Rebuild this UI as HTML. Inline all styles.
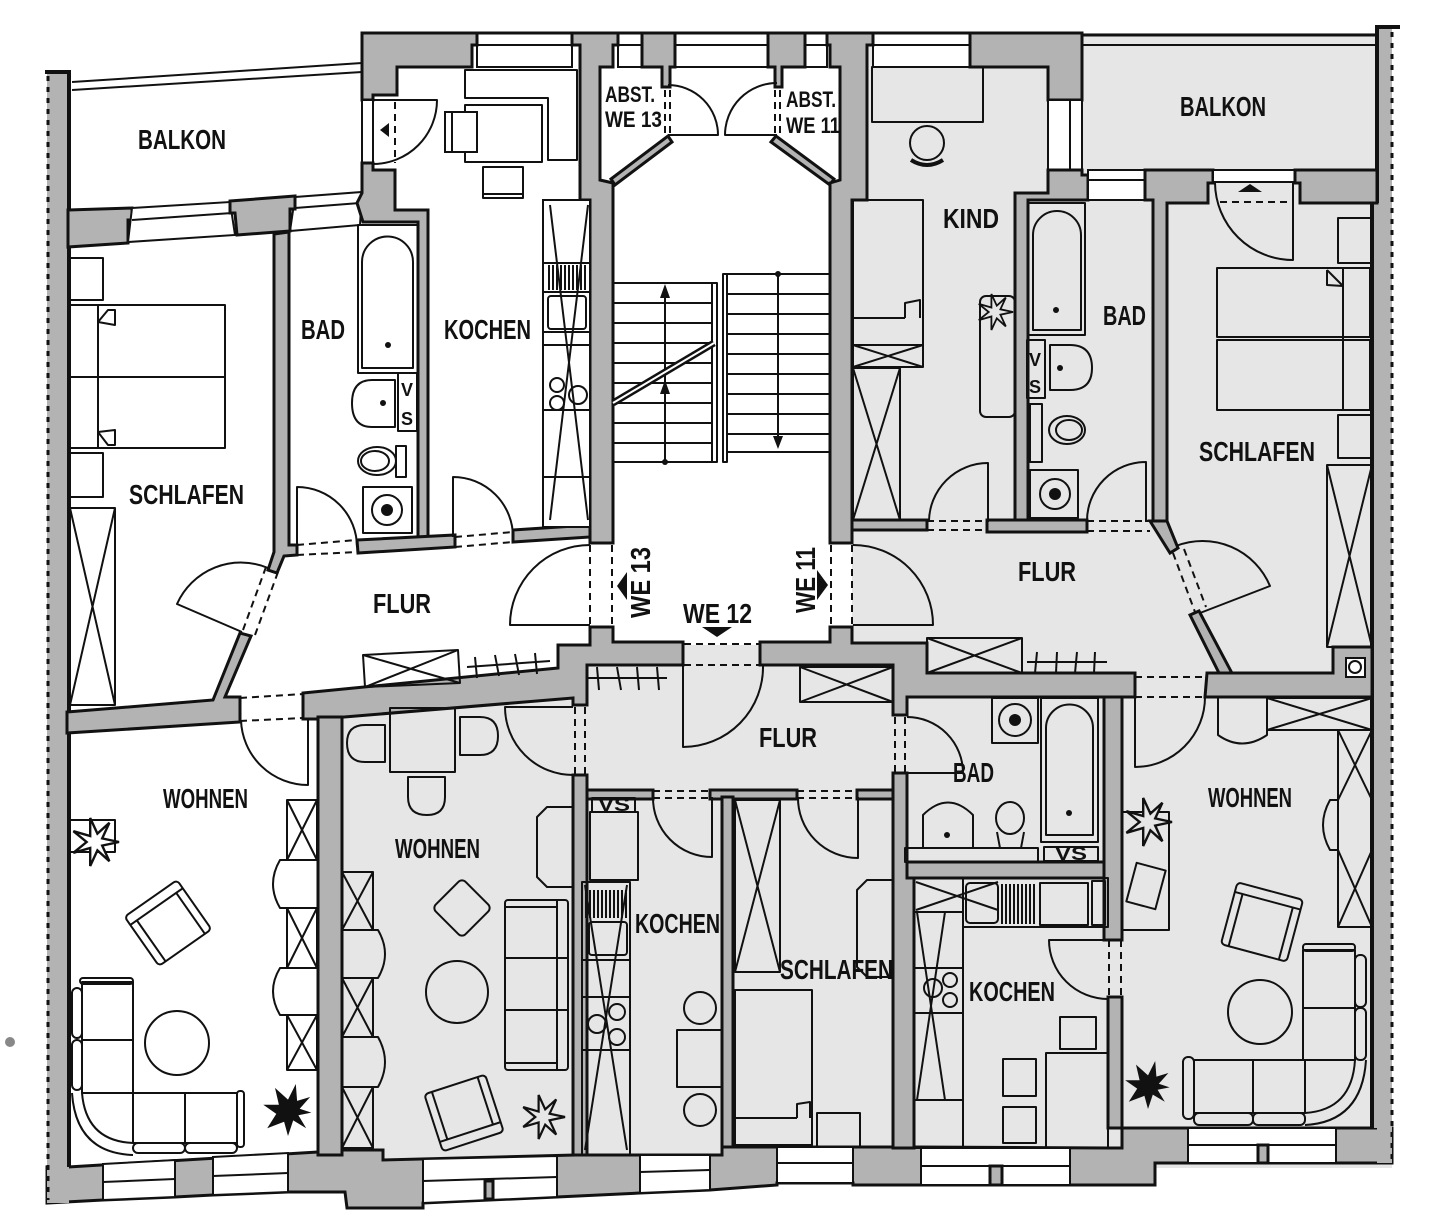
<!DOCTYPE html>
<html><head><meta charset="utf-8"><title>Grundriss</title>
<style>
html,body{margin:0;padding:0;background:#fff}
svg{display:block}
.w{fill:#b3b3b3;stroke:#111;stroke-width:3}
.g{fill:#b3b3b3}
.f{fill:none;stroke:#111;stroke-width:2;stroke-linejoin:round}
.fw{fill:#fff;stroke:#111;stroke-width:2}
.d{fill:none;stroke:#111;stroke-width:2;stroke-dasharray:7 5}
.t{font-family:"Liberation Sans",sans-serif;font-weight:bold;font-size:28px;fill:#111}
.s{font-family:"Liberation Sans",sans-serif;font-weight:bold;font-size:22px;fill:#111}
.v{font-family:"Liberation Sans",sans-serif;font-weight:bold;font-size:18px;fill:#111}
</style></head><body>
<svg width="1445" height="1230" viewBox="0 0 1445 1230" xmlns="http://www.w3.org/2000/svg">
<defs>
<path id="pl" d="M20,0 L6,3 L12,16 L2,7 L-4,20 L-4,5 L-18,9 L-7,0 L-18,-9 L-4,-5 L-4,-20 L2,-7 L12,-16 L6,-3 Z"/>
<path id="pb" d="M18,2 L8,4 L14,14 L4,8 L0,20 L-3,9 L-16,14 L-9,3 L-19,-4 L-7,-4 L-10,-17 L0,-8 L6,-20 L7,-7 L17,-10 L9,-1 Z"/>
</defs>
<rect width="1445" height="1230" fill="#fff"/>
<!-- stipple areas -->
<rect x="580" y="33" width="812" height="1135" fill="#e6e6e6"/>
<rect x="342" y="700" width="240" height="460" fill="#e6e6e6"/>
<rect x="575" y="33" width="277" height="612" fill="#fff"/>

<!-- bottom facade band -->
<polygon class="w" points="47,1167 68,1167 318,1152 342,1150 383,1150 383,1160 575,1155 722,1155 722,1147 914,1147 1108,1148 1122,1148 1122,1128 1392,1128 1392,1163 1155,1163 1155,1185 928,1185 853,1185 853,1183 777,1183 777,1185 710,1190 640,1193 557,1197 423,1203 423,1208 347,1208 345,1192 288,1192 213,1195 175,1197 103,1200 47,1203"/>
<!-- bottom windows -->
<polygon class="fw" points="103,1164 175,1160 175,1197 103,1200"/><line class="f" x1="103" y1="1182" x2="175" y2="1179"/>
<polygon class="fw" points="213,1157 288,1153 288,1192 213,1195"/><line class="f" x1="213" y1="1176" x2="288" y2="1173"/>
<polygon class="fw" points="423,1159 557,1156 557,1197 423,1203"/><line class="f" x1="423" y1="1181" x2="557" y2="1177"/><rect class="w" x="485" y="1181" width="8" height="18" stroke-width="2"/>
<polygon class="fw" points="640,1155 710,1155 710,1190 640,1193"/><line class="f" x1="640" y1="1172" x2="710" y2="1170"/>
<polygon class="fw" points="777,1147 853,1147 853,1183 777,1183"/><line class="f" x1="777" y1="1163" x2="853" y2="1163"/>
<polygon class="fw" points="921,1148 1070,1148 1070,1185 921,1185"/><line class="f" x1="921" y1="1166" x2="1070" y2="1166"/><rect class="w" x="990" y="1166" width="12" height="19" stroke-width="2"/>
<polygon class="fw" points="1188,1128 1336,1128 1336,1163 1188,1163"/><line class="f" x1="1188" y1="1145" x2="1336" y2="1145"/><rect class="w" x="1258" y="1145" width="10" height="18" stroke-width="2"/>

<!-- exterior left -->
<rect class="g" x="47" y="72" width="22" height="1131"/>
<line x1="45" y1="72" x2="71" y2="72" stroke="#111" stroke-width="4"/>
<line x1="69" y1="72" x2="69" y2="1167" stroke="#111" stroke-width="4"/>
<line x1="48" y1="76" x2="48" y2="1200" stroke="#111" stroke-width="3" stroke-dasharray="5 6"/>
<!-- exterior right -->
<rect class="g" x="1377" y="27" width="15" height="1136"/>
<rect class="g" x="1372" y="203" width="6" height="925"/>
<line x1="1377" y1="27" x2="1377" y2="203" stroke="#111" stroke-width="4"/>
<line x1="1372" y1="203" x2="1372" y2="1128" stroke="#111" stroke-width="4"/>
<line x1="1375" y1="27" x2="1400" y2="27" stroke="#111" stroke-width="4"/>
<line x1="1392" y1="32" x2="1392" y2="1160" stroke="#111" stroke-width="3" stroke-dasharray="5 6"/>

<!-- balconies -->
<line class="f" x1="72" y1="82" x2="362" y2="63"/>
<line class="f" x1="72" y1="90" x2="362" y2="72"/>
<line x1="1082" y1="35" x2="1377" y2="35" stroke="#111" stroke-width="3"/>
<line class="f" x1="1082" y1="45" x2="1377" y2="45"/>

<!-- top windows -->
<rect class="fw" x="477" y="33" width="95" height="34"/><line class="f" x1="477" y1="45" x2="572" y2="45"/>
<rect class="fw" x="618" y="33" width="24" height="34"/><line class="f" x1="618" y1="45" x2="642" y2="45"/>
<rect class="fw" x="675" y="33" width="93" height="34"/><line class="f" x1="675" y1="45" x2="768" y2="45"/>
<rect class="fw" x="805" y="33" width="22" height="34"/><line class="f" x1="805" y1="45" x2="827" y2="45"/>
<rect class="fw" x="873" y="33" width="97" height="34"/><line class="f" x1="873" y1="45" x2="970" y2="45"/>
<line x1="362" y1="33" x2="1082" y2="33" stroke="#111" stroke-width="3"/>

<!-- left apartment top walls -->
<polygon class="w" points="68,210 132,208 132,220 128,220 128,243 68,247"/>
<polygon class="fw" points="132,208 230,202 235,235 128,242"/>
<line class="f" x1="132" y1="220" x2="232" y2="213"/>
<polygon class="fw" points="295,197 362,192 360,225 290,231"/>
<line class="f" x1="295" y1="208" x2="360" y2="203"/>
<polygon class="w" points="230,201 295,196 295,209 290,209 290,231 237,235 235,213 230,213"/>
<polygon class="w" points="362,33 477,33 477,45 472,45 472,67 397,67 397,95 373,95 373,100 362,100"/>
<rect class="fw" x="362" y="100" width="11" height="63"/>
<polygon class="w" points="362,163 373,163 373,170 395,170 395,210 428,210 428,540 418,540 418,222 363,222 357,203 362,193"/>
<polygon class="w" points="274,234 289,232 289,545 297,545 297,555 284,556 277,573 268,570 274,552"/>
<polygon class="w" points="357,540 455,535 455,547 358,553"/>
<polygon class="w" points="513,530 590,525 590,537 513,542"/>
<!-- stair walls -->
<polygon class="w" points="572,33 618,33 618,45 613,45 613,67 600,67 600,180 613,183 613,543 590,543 590,200 580,200 580,45 572,45"/>
<polygon class="w" points="611,179 668,136 672,142 615,185"/>
<polygon class="w" points="642,33 675,33 675,67 670,67 670,87 662,87 662,67 642,67"/>
<polygon class="w" points="768,33 805,33 805,67 782,67 782,87 775,87 775,67 768,67"/>
<polygon class="w" points="771,142 776,136 834,179 830,185"/>
<polygon class="w" points="827,33 873,33 873,45 867,45 867,200 852,200 852,543 830,543 830,183 840,180 840,67 830,67 830,45 827,45"/>
<!-- right apartment top walls -->
<polygon class="w" points="970,33 1082,33 1082,100 1048,100 1048,67 970,67"/>
<rect class="fw" x="1048" y="100" width="34" height="70"/><line class="f" x1="1070" y1="100" x2="1070" y2="170"/>
<polygon class="w" points="1048,170 1082,170 1082,175 1088,175 1088,200 1028,200 1028,522 1015,522 1015,193 1048,193"/>
<rect class="fw" x="1088" y="170" width="57" height="30"/><line class="f" x1="1088" y1="180" x2="1145" y2="180"/>
<polygon class="w" points="1145,170 1213,170 1213,183 1208,183 1208,203 1167,203 1167,522 1153,522 1153,200 1145,200"/>
<rect class="fw" x="1213" y="170" width="82" height="12"/>
<polygon class="w" points="1295,170 1377,170 1377,203 1300,203 1300,183 1295,183"/>
<rect class="w" x="987" y="520" width="100" height="12"/>
<rect class="w" x="852" y="520" width="75" height="10"/>
<polygon class="w" points="1150,521 1167,521 1178,548 1170,553"/>
<polygon class="w" points="1190,615 1199,611 1233,675 1222,679"/>
<polygon class="w" points="1207,673 1333,673 1333,647 1372,647 1372,697 1205,697"/>
<rect class="fw" x="1346" y="658" width="19" height="19"/><circle cx="1355" cy="667" r="6" fill="#fff" stroke="#111" stroke-width="2"/>
<!-- middle walls -->
<polygon class="w" points="760,642 830,642 830,627 852,627 852,643 927,643 927,673 1135,673 1135,697 907,697 907,715 893,715 893,665 760,665"/>
<rect class="w" x="1104" y="697" width="18" height="243"/>
<rect class="w" x="1108" y="997" width="14" height="131"/>
<polygon class="w" points="303,693 558,668 558,645 590,645 590,627 613,627 613,642 683,642 683,665 587,665 587,705 573,705 573,698 320,719 303,719"/>
<rect class="w" x="318" y="717" width="24" height="438"/>
<polygon class="w" points="67,712 213,700 240,633 251,636 225,697 240,697 240,722 67,733"/>
<polygon class="w" points="893,773 907,773 907,862 914,862 914,1148 893,1148"/>
<rect class="w" x="907" y="862" width="197" height="16"/>
<rect class="w" x="573" y="790" width="80" height="9"/>
<rect class="w" x="710" y="790" width="87" height="9"/>
<rect class="w" x="857" y="790" width="36" height="9"/>
<rect class="w" x="573" y="775" width="14" height="380"/>
<rect class="w" x="722" y="797" width="11" height="350"/>

<!-- doors -->
<path class="f" d="M373,100 L437,100 A64,64 0 0 1 373,164"/>
<line class="d" x1="395" y1="102" x2="395" y2="163"/>
<polygon points="380,130 389,123 389,137" fill="#111"/>
<path class="f" d="M297,547 L297,487 A60,60 0 0 1 357,547"/>
<line class="d" x1="297" y1="545" x2="357" y2="540"/><line class="d" x1="297" y1="555" x2="357" y2="552"/>
<path class="f" d="M453,537 L453,477 A60,60 0 0 1 513,537"/>
<line class="d" x1="455" y1="537" x2="513" y2="532"/><line class="d" x1="455" y1="547" x2="513" y2="542"/>
<path class="f" d="M242,632 L177,604 A70,70 0 0 1 268,568"/>
<line class="d" x1="243" y1="630" x2="266" y2="567"/><line class="d" x1="255" y1="635" x2="278" y2="572"/>
<path class="f" d="M308,720 L308,785 A67,67 0 0 1 241,720"/>
<line class="d" x1="240" y1="698" x2="303" y2="694"/><line class="d" x1="240" y1="721" x2="303" y2="718"/>
<path class="f" d="M590,625 L510,625 A80,80 0 0 1 590,545"/>
<line class="d" x1="590" y1="545" x2="590" y2="625"/><line class="d" x1="612" y1="545" x2="612" y2="625"/>
<path class="f" d="M853,625 L933,625 A80,80 0 0 0 853,545"/>
<line class="d" x1="831" y1="545" x2="831" y2="625"/><line class="d" x1="852" y1="545" x2="852" y2="625"/>
<path class="f" d="M683,665 L683,747 A80,80 0 0 0 763,665"/>
<line class="d" x1="684" y1="644" x2="760" y2="644"/><line class="d" x1="684" y1="665" x2="760" y2="665"/>
<path class="f" d="M573,707 L505,707 A68,68 0 0 0 573,775"/>
<line class="d" x1="575" y1="707" x2="575" y2="775"/><line class="d" x1="585" y1="707" x2="585" y2="775"/>
<path class="f" d="M907,717 A56,56 0 0 1 963,773 L907,773"/>
<line class="d" x1="895" y1="717" x2="895" y2="773"/><line class="d" x1="905" y1="717" x2="905" y2="773"/>
<path class="f" d="M712,797 L712,857 A59,59 0 0 1 653,797"/>
<line class="d" x1="653" y1="791" x2="710" y2="791"/><line class="d" x1="653" y1="798" x2="710" y2="798"/>
<path class="f" d="M858,797 L858,858 A60,60 0 0 1 798,797"/>
<line class="d" x1="797" y1="791" x2="857" y2="791"/><line class="d" x1="797" y1="798" x2="857" y2="798"/>
<path class="f" d="M988,522 L988,463 A59,59 0 0 0 929,522"/>
<line class="d" x1="927" y1="521" x2="987" y2="521"/><line class="d" x1="927" y1="530" x2="987" y2="530"/>
<path class="f" d="M1146,522 L1146,462 A59,59 0 0 0 1087,522"/>
<line class="d" x1="1087" y1="521" x2="1150" y2="521"/><line class="d" x1="1087" y1="531" x2="1150" y2="531"/>
<path class="f" d="M1200,613 L1270,586 A73,73 0 0 0 1176,546"/>
<line class="d" x1="1173" y1="553" x2="1195" y2="612"/><line class="d" x1="1184" y1="549" x2="1206" y2="607"/>
<path class="f" d="M1135,697 L1135,767 A70,70 0 0 0 1205,697"/>
<line class="d" x1="1135" y1="677" x2="1207" y2="677"/><line class="d" x1="1135" y1="697" x2="1207" y2="697"/>
<path class="f" d="M1108,940 L1049,940 A59,59 0 0 0 1108,999"/>
<line class="d" x1="1109" y1="940" x2="1109" y2="997"/><line class="d" x1="1121" y1="940" x2="1121" y2="997"/>
<path class="f" d="M1293,183 L1293,260 A78,78 0 0 1 1215,183"/>
<line class="d" x1="1220" y1="202" x2="1293" y2="202"/>
<polygon points="1238,192 1262,192 1250,184" fill="#111"/>
<path class="f" d="M668,135 L718,135 A50,50 0 0 0 668,85"/>
<line class="d" x1="665" y1="90" x2="665" y2="135"/><line class="d" x1="670" y1="90" x2="670" y2="135"/>
<path class="f" d="M777,135 L725,135 A52,52 0 0 1 777,83"/>
<line class="d" x1="775" y1="90" x2="775" y2="135"/><line class="d" x1="780" y1="90" x2="780" y2="135"/>

<!-- stairs -->
<g stroke="#111" stroke-width="2">
<line x1="613" y1="283" x2="712" y2="283"/><line x1="613" y1="303" x2="712" y2="303"/><line x1="613" y1="323" x2="712" y2="323"/><line x1="613" y1="343" x2="712" y2="343"/><line x1="613" y1="363" x2="712" y2="363"/><line x1="613" y1="383" x2="712" y2="383"/><line x1="613" y1="403" x2="712" y2="403"/><line x1="613" y1="423" x2="712" y2="423"/><line x1="613" y1="443" x2="712" y2="443"/><line x1="613" y1="462" x2="712" y2="462"/>
<line x1="727" y1="274" x2="830" y2="274"/><line x1="727" y1="294" x2="830" y2="294"/><line x1="727" y1="314" x2="830" y2="314"/><line x1="727" y1="334" x2="830" y2="334"/><line x1="727" y1="354" x2="830" y2="354"/><line x1="727" y1="374" x2="830" y2="374"/><line x1="727" y1="394" x2="830" y2="394"/><line x1="727" y1="414" x2="830" y2="414"/><line x1="727" y1="434" x2="830" y2="434"/><line x1="727" y1="452" x2="830" y2="452"/>
<line x1="665" y1="290" x2="665" y2="462"/><line x1="778" y1="274" x2="778" y2="445"/>
</g>
<rect class="f" x="712" y="283" width="5" height="179"/>
<rect class="f" x="723" y="274" width="4" height="188"/>
<polygon points="665,284 660,298 670,298" fill="#111"/>
<polygon points="665,380 660,394 670,394" fill="#111"/>
<polygon points="778,449 773,436 783,436" fill="#111"/>
<circle cx="665" cy="462" r="3" fill="#111"/><circle cx="778" cy="274" r="3" fill="#111"/>
<line x1="613" y1="403" x2="714" y2="343" stroke="#111" stroke-width="7"/>
<line x1="613" y1="403" x2="714" y2="343" stroke="#fff" stroke-width="2"/>

<!-- WE13 SCHLAFEN furniture -->
<rect class="f" x="70" y="258" width="33" height="42"/>
<rect class="f" x="70" y="305" width="155" height="72"/>
<rect class="f" x="70" y="377" width="155" height="71"/>
<line class="f" x1="98" y1="305" x2="98" y2="448"/>
<path class="f" d="M98,322 L108,310 L115,310 L115,325 Z"/>
<path class="f" d="M98,432 L108,445 L115,445 L115,430 Z"/>
<rect class="f" x="70" y="453" width="33" height="44"/>
<rect class="f" x="70" y="508" width="45" height="197"/>
<path class="f" d="M70,508 L115,705 M115,508 L70,705"/>
<!-- WE13 BAD -->
<rect class="f" x="358" y="225" width="60" height="148"/>
<path class="f" d="M362,368 L362,262 A25,25 0 0 1 413,262 L413,368 Z"/>
<circle cx="388" cy="345" r="3" fill="#111"/>
<rect class="f" x="398" y="373" width="19" height="58" stroke-width="3"/>
<text class="v" x="401" y="396">V</text><text class="v" x="401" y="425">S</text>
<path class="f" d="M395,380 L372,380 Q352,380 352,403 Q352,427 372,427 L395,427 Z"/>
<circle cx="383" cy="403" r="3" fill="#111"/>
<ellipse class="f" cx="377" cy="461" rx="19" ry="14"/><ellipse class="f" cx="375" cy="461" rx="14" ry="10"/>
<rect class="f" x="396" y="446" width="10" height="31"/>
<rect class="f" x="363" y="487" width="49" height="46"/>
<circle class="f" cx="387" cy="510" r="15"/><circle cx="387" cy="510" r="6" fill="#111"/>
<!-- WE13 KOCHEN -->
<polygon class="f" points="465,70 577,70 577,160 548,160 548,98 465,98"/>
<rect class="f" x="465" y="105" width="77" height="57"/>
<rect class="fw" x="445" y="112" width="32" height="40"/><line class="f" x1="452" y1="112" x2="452" y2="152"/>
<rect class="f" x="483" y="167" width="40" height="31"/><line class="f" x1="483" y1="194" x2="523" y2="194"/>
<rect class="fw" x="543" y="200" width="47" height="327"/>
<path class="f" d="M550,205 L588,520 M588,205 L550,520"/>
<g stroke="#111" stroke-width="2"><line x1="543" y1="263" x2="590" y2="263"/><line x1="543" y1="292" x2="590" y2="292"/><line x1="543" y1="332" x2="590" y2="332"/><line x1="543" y1="345" x2="590" y2="345"/><line x1="543" y1="410" x2="590" y2="410"/><line x1="543" y1="477" x2="590" y2="477"/>
<line x1="549" y1="265" x2="549" y2="290"/><line x1="553" y1="265" x2="553" y2="290"/><line x1="557" y1="265" x2="557" y2="290"/><line x1="561" y1="265" x2="561" y2="290"/><line x1="565" y1="265" x2="565" y2="290"/><line x1="569" y1="265" x2="569" y2="290"/><line x1="573" y1="265" x2="573" y2="290"/><line x1="577" y1="265" x2="577" y2="290"/><line x1="581" y1="265" x2="581" y2="290"/><line x1="585" y1="265" x2="585" y2="290"/></g>
<rect class="f" x="548" y="296" width="38" height="33" rx="3"/>
<circle class="f" cx="557" cy="385" r="7"/><circle class="f" cx="557" cy="403" r="7"/><circle class="f" cx="578" cy="395" r="9"/>
<!-- FLUR left -->
<polygon class="f" points="363,655 458,650 460,683 365,687"/>
<path class="f" d="M363,655 L460,683 M458,650 L365,687"/>
<path class="f" d="M467,667 L550,661 M475,657 L477,678 M495,655 L499,676 M515,654 L519,675 M535,653 L537,674"/>

<!-- KIND -->
<rect class="f" x="872" y="67" width="111" height="55"/>
<circle class="f" cx="927" cy="143" r="17"/>
<path d="M911,160 Q927,170 943,160" fill="none" stroke="#111" stroke-width="4"/>
<rect class="f" x="853" y="200" width="70" height="145"/>
<line class="f" x1="853" y1="318" x2="905" y2="318"/>
<path class="f" d="M905,318 L905,303 L920,300 L920,318"/>
<rect class="f" x="853" y="345" width="70" height="22"/>
<path class="f" d="M853,345 L923,367 M923,345 L853,367"/>
<rect class="f" x="853" y="368" width="47" height="152"/>
<path class="f" d="M853,368 L900,520 M900,368 L853,520"/>
<rect class="f" x="980" y="296" width="35" height="121" rx="6"/>
<use href="#pl" transform="translate(995,312) scale(0.9)" fill="none" stroke="#111" stroke-width="2"/>
<!-- upper right BAD -->
<rect class="f" x="1028" y="203" width="57" height="132"/>
<path class="f" d="M1033,330 L1033,235 A24,24 0 0 1 1081,235 L1081,330 Z"/>
<circle cx="1056" cy="310" r="3" fill="#111"/>
<rect class="f" x="1027" y="340" width="18" height="58" stroke-width="3"/>
<text class="v" x="1029" y="366">V</text><text class="v" x="1029" y="393">S</text>
<path class="f" d="M1050,345 L1070,345 Q1092,345 1092,368 Q1092,390 1070,390 L1050,390 Z"/>
<circle cx="1060" cy="368" r="3" fill="#111"/>
<rect class="f" x="1030" y="404" width="12" height="58"/>
<ellipse class="f" cx="1067" cy="430" rx="18" ry="14"/><ellipse class="f" cx="1069" cy="430" rx="13" ry="10"/>
<rect class="f" x="1030" y="470" width="48" height="48"/>
<circle class="f" cx="1055" cy="494" r="15"/><circle cx="1055" cy="494" r="6" fill="#111"/>
<!-- right SCHLAFEN -->
<rect class="f" x="1338" y="218" width="34" height="45"/>
<rect class="f" x="1217" y="268" width="153" height="69"/>
<rect class="f" x="1217" y="340" width="153" height="70"/>
<line class="f" x1="1343" y1="268" x2="1343" y2="410"/>
<path class="f" d="M1327,270 L1343,286 M1327,270 L1327,285 L1343,286"/>
<rect class="f" x="1338" y="415" width="34" height="43"/>
<rect class="f" x="1327" y="465" width="45" height="182"/>
<path class="f" d="M1327,465 L1372,647 M1372,465 L1327,647"/>
<!-- right FLUR -->
<rect class="f" x="927" y="638" width="95" height="35"/>
<path class="f" d="M927,638 L1022,673 M1022,638 L927,673"/>
<path class="f" d="M1027,662 L1107,662 M1037,652 L1035,673 M1057,652 L1056,673 M1077,652 L1075,673 M1095,652 L1094,673"/>
<!-- lower FLUR -->
<path class="f" d="M587,678 L667,678 M597,667 L599,690 M617,667 L621,690 M637,667 L639,690 M657,667 L659,690"/>
<rect class="f" x="800" y="667" width="93" height="35"/>
<path class="f" d="M800,667 L893,702 M893,667 L800,702"/>

<!-- left WOHNEN -->
<rect class="f" x="69" y="820" width="46" height="32"/>
<use href="#pl" transform="translate(95,842) scale(1.2)" fill="#fff" stroke="#111" stroke-width="2"/>
<g transform="translate(168,923) rotate(-35)">
<rect class="f" x="-32" y="-30" width="64" height="60" rx="4"/>
<line class="f" x1="-32" y1="-20" x2="32" y2="-20"/><line class="f" x1="-24" y1="-20" x2="-24" y2="30"/><line class="f" x1="24" y1="-20" x2="24" y2="30"/>
</g>
<rect class="f" x="82" y="982" width="51" height="58"/>
<rect class="f" x="82" y="1040" width="51" height="53"/>
<rect class="f" x="72" y="988" width="10" height="50" rx="5"/>
<rect class="f" x="72" y="1040" width="10" height="50" rx="5"/>
<rect class="f" x="80" y="978" width="53" height="6" rx="3"/>
<rect class="f" x="133" y="1093" width="52" height="50"/>
<rect class="f" x="185" y="1093" width="52" height="50"/>
<rect class="f" x="237" y="1091" width="7" height="56" rx="3"/>
<rect class="f" x="133" y="1143" width="52" height="10" rx="5"/>
<rect class="f" x="185" y="1143" width="52" height="10" rx="5"/>
<path class="f" d="M72,1093 Q76,1153 133,1155 M82,1093 Q86,1141 133,1143"/>
<circle class="f" cx="177" cy="1043" r="32"/>
<rect class="f" x="287" y="800" width="30" height="60"/><path class="f" d="M287,800 L317,860 M317,800 L287,860"/>
<path class="f" d="M317,860 L280,860 Q266,884 280,908 L317,908"/>
<rect class="f" x="287" y="908" width="30" height="60"/><path class="f" d="M287,908 L317,968 M317,908 L287,968"/>
<path class="f" d="M317,968 L280,968 Q266,991 280,1015 L317,1015"/>
<rect class="f" x="287" y="1015" width="30" height="55"/><path class="f" d="M287,1015 L317,1070 M317,1015 L287,1070"/>
<use href="#pb" transform="translate(288,1110) scale(1.3)" fill="#111"/>

<!-- middle WOHNEN -->
<rect class="f" x="390" y="708" width="65" height="64"/>
<path class="f" d="M385,725 L365,725 Q347,725 347,743 Q347,762 365,762 L385,762 Z"/>
<path class="f" d="M460,717 L480,717 Q498,717 498,736 Q498,755 480,755 L460,755 Z"/>
<path class="f" d="M408,777 L408,797 Q408,815 427,815 Q445,815 445,797 L445,777 Z"/>
<path class="f" d="M573,807 L547,807 L537,817 L537,877 L547,887 L573,887"/>
<rect class="f" x="441" y="887" width="42" height="42" rx="5" transform="rotate(45 462 908)"/>
<circle class="f" cx="457" cy="992" r="31"/>
<rect class="f" x="505" y="900" width="63" height="170" rx="3"/>
<line class="f" x1="505" y1="907" x2="557" y2="907"/><line class="f" x1="505" y1="1063" x2="557" y2="1063"/>
<line class="f" x1="557" y1="900" x2="557" y2="1070"/>
<line class="f" x1="505" y1="958" x2="568" y2="958"/><line class="f" x1="505" y1="1010" x2="568" y2="1010"/>
<rect class="f" x="342" y="872" width="31" height="58"/><path class="f" d="M342,872 L373,930 M373,872 L342,930"/>
<path class="f" d="M342,930 L378,930 Q392,954 378,978 L342,978"/>
<rect class="f" x="342" y="978" width="31" height="59"/><path class="f" d="M342,978 L373,1037 M373,978 L342,1037"/>
<path class="f" d="M342,1037 L378,1037 Q392,1062 378,1087 L342,1087"/>
<rect class="f" x="342" y="1087" width="31" height="61"/><path class="f" d="M342,1087 L373,1148 M373,1087 L342,1148"/>
<g transform="translate(464,1113) rotate(-18)">
<rect class="f" x="-32" y="-30" width="64" height="60" rx="4"/>
<line class="f" x1="-32" y1="20" x2="32" y2="20"/><line class="f" x1="-24" y1="-30" x2="-24" y2="20"/><line class="f" x1="24" y1="-30" x2="24" y2="20"/>
</g>
<use href="#pl" transform="translate(543,1117) scale(1.1)" fill="none" stroke="#111" stroke-width="2"/>

<!-- middle KOCHEN -->
<rect class="f" x="592" y="798" width="43" height="14" stroke-width="3"/>
<text class="v" x="598" y="811" font-size="13" textLength="32" lengthAdjust="spacingAndGlyphs">VS</text>
<rect class="f" x="590" y="812" width="48" height="68"/>
<rect class="f" x="582" y="882" width="48" height="273"/>
<path class="f" d="M585,885 L627,1150 M627,885 L585,1150"/>
<g stroke="#111" stroke-width="2"><line x1="586" y1="890" x2="586" y2="918"/><line x1="590" y1="890" x2="590" y2="918"/><line x1="594" y1="890" x2="594" y2="918"/><line x1="598" y1="890" x2="598" y2="918"/><line x1="602" y1="890" x2="602" y2="918"/><line x1="606" y1="890" x2="606" y2="918"/><line x1="610" y1="890" x2="610" y2="918"/><line x1="614" y1="890" x2="614" y2="918"/><line x1="618" y1="890" x2="618" y2="918"/><line x1="622" y1="890" x2="622" y2="918"/><line x1="626" y1="890" x2="626" y2="918"/>
<line x1="582" y1="960" x2="630" y2="960"/><line x1="582" y1="997" x2="630" y2="997"/><line x1="582" y1="1050" x2="630" y2="1050"/></g>
<rect class="f" x="589" y="922" width="38" height="33" rx="3"/>
<circle class="f" cx="597" cy="1024" r="9"/><circle class="f" cx="617" cy="1012" r="8"/><circle class="f" cx="617" cy="1037" r="8"/>
<circle class="f" cx="700" cy="1008" r="16"/><circle class="f" cx="700" cy="1110" r="16"/>
<rect class="f" x="677" y="1030" width="45" height="57"/>
<!-- middle SCHLAFEN -->
<rect class="f" x="735" y="800" width="45" height="172"/>
<path class="f" d="M735,800 L780,972 M780,800 L735,972"/>
<rect class="f" x="735" y="990" width="77" height="155"/>
<line class="f" x1="735" y1="1118" x2="797" y2="1118"/>
<path class="f" d="M797,1118 L797,1104 L810,1102 L810,1118"/>
<rect class="f" x="817" y="1113" width="43" height="34"/>
<path class="f" d="M893,880 L867,880 L857,890 L857,967 L867,977 L893,977"/>

<!-- lower BAD -->
<rect class="f" x="992" y="698" width="46" height="45"/>
<circle class="f" cx="1015" cy="720" r="16"/><circle cx="1015" cy="720" r="6" fill="#111"/>
<rect class="f" x="1041" y="698" width="57" height="144"/>
<path class="f" d="M1046,835 L1046,728 A23,23 0 0 1 1093,728 L1093,835 Z"/>
<circle cx="1069" cy="813" r="3" fill="#111"/>
<path class="f" d="M923,848 L923,815 Q948,790 973,815 L973,848 Z"/>
<circle cx="947" cy="835" r="3" fill="#111"/>
<ellipse class="f" cx="1010" cy="818" rx="14" ry="16"/>
<path class="f" d="M997,832 L1000,848 L1021,848 L1024,832"/>
<rect class="f" x="905" y="848" width="133" height="14"/>
<rect class="f" x="1044" y="847" width="54" height="14" stroke-width="3"/>
<text class="v" x="1055" y="860" font-size="13" textLength="32" lengthAdjust="spacingAndGlyphs">VS</text>
<!-- lower right KOCHEN -->
<rect class="f" x="914" y="878" width="49" height="270"/>
<rect class="f" x="963" y="878" width="145" height="49"/>
<path class="f" d="M917,912 L945,1100 M945,912 L917,1100 M916,882 L998,910 M998,882 L916,910"/>
<g stroke="#111" stroke-width="2"><line x1="914" y1="912" x2="963" y2="912"/><line x1="914" y1="968" x2="963" y2="968"/><line x1="914" y1="1013" x2="963" y2="1013"/><line x1="914" y1="1100" x2="963" y2="1100"/>
<line x1="1002" y1="884" x2="1002" y2="924"/><line x1="1006" y1="884" x2="1006" y2="924"/><line x1="1010" y1="884" x2="1010" y2="924"/><line x1="1014" y1="884" x2="1014" y2="924"/><line x1="1018" y1="884" x2="1018" y2="924"/><line x1="1022" y1="884" x2="1022" y2="924"/><line x1="1026" y1="884" x2="1026" y2="924"/><line x1="1030" y1="884" x2="1030" y2="924"/><line x1="1034" y1="884" x2="1034" y2="924"/></g>
<rect class="f" x="966" y="883" width="32" height="40" rx="4"/>
<rect class="f" x="1040" y="883" width="48" height="42"/>
<rect class="f" x="1092" y="881" width="13" height="44" stroke-width="3"/>
<circle class="f" cx="933" cy="988" r="9"/><circle class="f" cx="950" cy="980" r="7"/><circle class="f" cx="950" cy="1000" r="7"/>
<rect class="f" x="1060" y="1017" width="36" height="32"/>
<rect class="f" x="1003" y="1059" width="33" height="37"/>
<rect class="f" x="1003" y="1107" width="33" height="36"/>
<rect class="f" x="1046" y="1053" width="62" height="95"/>

<!-- right WOHNEN -->
<path class="f" d="M1218,698 L1218,735 Q1242,752 1267,735 L1267,698"/>
<rect class="f" x="1267" y="698" width="105" height="32"/>
<path class="f" d="M1267,698 L1372,730 M1372,698 L1267,730"/>
<rect class="f" x="1338" y="730" width="34" height="197"/>
<path class="f" d="M1338,730 L1372,800 M1372,730 L1338,800 M1338,850 L1372,927 M1372,850 L1338,927"/>
<path class="f" d="M1338,800 L1330,800 Q1316,825 1330,850 L1338,850"/>
<rect class="f" x="1122" y="812" width="47" height="118"/>
<rect class="f" x="1131" y="866" width="30" height="40" transform="rotate(15 1146 886)"/>
<use href="#pl" transform="translate(1148,822) scale(1.2)" fill="#e6e6e6" stroke="#111" stroke-width="2"/>
<g transform="translate(1262,922) rotate(15)">
<rect class="f" x="-34" y="-32" width="68" height="64" rx="4"/>
<line class="f" x1="-34" y1="-22" x2="34" y2="-22"/><line class="f" x1="-26" y1="-22" x2="-26" y2="32"/><line class="f" x1="26" y1="-22" x2="26" y2="32"/>
</g>
<circle class="f" cx="1260" cy="1012" r="32"/>
<rect class="f" x="1303" y="950" width="52" height="110"/>
<line class="f" x1="1303" y1="1008" x2="1355" y2="1008"/>
<rect class="f" x="1355" y="955" width="11" height="52" rx="5"/>
<rect class="f" x="1355" y="1008" width="11" height="52" rx="5"/>
<rect class="f" x="1303" y="944" width="52" height="7" rx="3"/>
<rect class="f" x="1194" y="1060" width="111" height="53"/>
<line class="f" x1="1253" y1="1060" x2="1253" y2="1113"/>
<rect class="f" x="1194" y="1113" width="59" height="12" rx="5"/>
<rect class="f" x="1253" y="1113" width="52" height="12" rx="5"/>
<rect class="f" x="1183" y="1057" width="11" height="62" rx="5"/>
<path class="f" d="M1305,1060 L1355,1060 Q1352,1110 1305,1113 M1366,1060 Q1362,1122 1305,1125"/>
<use href="#pb" transform="translate(1148,1085) scale(1.2)" fill="#111"/>

<!-- labels -->
<text class="t" x="138" y="149" textLength="88" lengthAdjust="spacingAndGlyphs">BALKON</text>
<text class="t" x="1180" y="116" textLength="86" lengthAdjust="spacingAndGlyphs">BALKON</text>
<text class="t" x="301" y="339" textLength="44" lengthAdjust="spacingAndGlyphs">BAD</text>
<text class="t" x="444" y="339" textLength="87" lengthAdjust="spacingAndGlyphs">KOCHEN</text>
<text class="t" x="129" y="504" textLength="115" lengthAdjust="spacingAndGlyphs">SCHLAFEN</text>
<text class="t" x="373" y="613" textLength="58" lengthAdjust="spacingAndGlyphs">FLUR</text>
<text class="t" x="163" y="808" textLength="85" lengthAdjust="spacingAndGlyphs">WOHNEN</text>
<text class="t" x="395" y="858" textLength="85" lengthAdjust="spacingAndGlyphs">WOHNEN</text>
<text class="t" x="635" y="933" textLength="85" lengthAdjust="spacingAndGlyphs">KOCHEN</text>
<text class="t" x="780" y="979" textLength="113" lengthAdjust="spacingAndGlyphs">SCHLAFEN</text>
<text class="t" x="943" y="228" textLength="56" lengthAdjust="spacingAndGlyphs">KIND</text>
<text class="t" x="1103" y="325" textLength="43" lengthAdjust="spacingAndGlyphs">BAD</text>
<text class="t" x="1199" y="461" textLength="116" lengthAdjust="spacingAndGlyphs">SCHLAFEN</text>
<text class="t" x="1018" y="581" textLength="58" lengthAdjust="spacingAndGlyphs">FLUR</text>
<text class="t" x="759" y="747" textLength="58" lengthAdjust="spacingAndGlyphs">FLUR</text>
<text class="t" x="953" y="782" textLength="41" lengthAdjust="spacingAndGlyphs">BAD</text>
<text class="t" x="1208" y="807" textLength="84" lengthAdjust="spacingAndGlyphs">WOHNEN</text>
<text class="t" x="969" y="1001" textLength="86" lengthAdjust="spacingAndGlyphs">KOCHEN</text>
<text class="s" x="605" y="102" textLength="50" lengthAdjust="spacingAndGlyphs">ABST.</text>
<text class="s" x="605" y="127" textLength="57" lengthAdjust="spacingAndGlyphs">WE 13</text>
<text class="s" x="786" y="107" textLength="50" lengthAdjust="spacingAndGlyphs">ABST.</text>
<text class="s" x="786" y="133" textLength="54" lengthAdjust="spacingAndGlyphs">WE 11</text>
<text class="t" x="683" y="623" textLength="69" lengthAdjust="spacingAndGlyphs">WE 12</text>
<text class="t" transform="translate(650,618) rotate(-90)" x="0" y="0" textLength="71" lengthAdjust="spacingAndGlyphs">WE 13</text>
<text class="t" transform="translate(815,613) rotate(-90)" x="0" y="0" textLength="66" lengthAdjust="spacingAndGlyphs">WE 11</text>
<polygon points="617,586 627,572 627,600" fill="#111"/>
<polygon points="828,585 817,570 817,600" fill="#111"/>
<polygon points="702,627 732,627 717,637" fill="#111"/>
<circle cx="10" cy="1042" r="5" fill="#888"/>
</svg>
</body></html>
